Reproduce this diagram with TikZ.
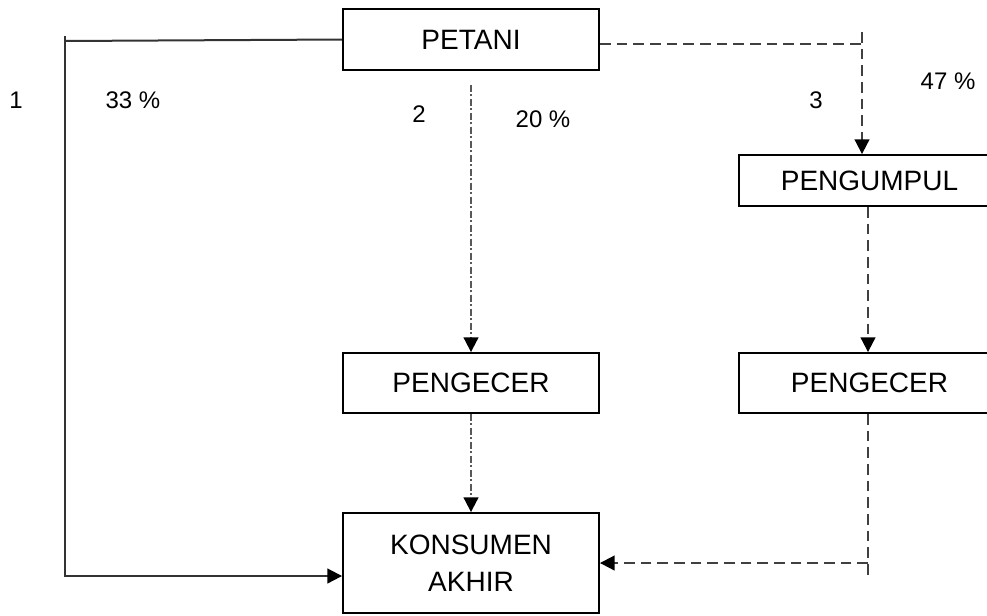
\documentclass[tikz,border=0pt]{standalone}
\usepackage{fontspec}
\setmainfont{Liberation Sans}
\usetikzlibrary{arrows.meta}
\tikzset{every picture/.style={line width=1.5pt}}
\tikzset{kotak/.style={draw=black, line width=1.4pt, fill=white, inner sep=0pt, font=\fontsize{21}{25}\selectfont, align=center}}
\tikzset{label teks/.style={inner sep=0pt, font=\fontsize{18}{21}\selectfont}}
\tikzset{panah/.style={-{Triangle[length=11pt,width=11pt,color=black]}}}
\tikzset{putus/.style={draw=black!75, dash pattern=on 8pt off 4.5pt}}
\tikzset{titik putus/.style={draw=black!65, dash pattern=on 5pt off 2pt on 1.5pt off 2pt}}
\begin{document}
\begin{tikzpicture}[x=0.75pt,y=-0.75pt]
        \clip (0,0) rectangle (987,615);
        \fill[white] (0,0) rectangle (987,615);
        \node[kotak, minimum width=192pt, minimum height=45.75pt] (petani) at (471,39.5) {PETANI};
        \node[kotak, minimum width=195.75pt, minimum height=38.25pt] (pengumpul) at (869.5,180.5) {PENGUMPUL};
        \node[kotak, minimum width=192pt, minimum height=45pt] (pengecer1) at (471,383) {PENGECER};
        \node[kotak, minimum width=195.75pt, minimum height=45pt] (pengecer2) at (869.5,383) {PENGECER};
        \node[kotak, minimum width=192pt, minimum height=75pt] (konsumen) at (471,563) {KONSUMEN\\[3pt]AKHIR};
        \node[label teks] (n1) at (16,100) {1};
        \node[label teks] (p1) at (133,100) {33 \%};
        \node[label teks] (n2) at (419,114) {2};
        \node[label teks] (p2) at (543,119) {20 \%};
        \node[label teks] (n3) at (816,100) {3};
        \node[label teks] (p3) at (948,81) {47 \%};
        \coordinate (kiri puncak) at (65,36);
        \coordinate (kiri atas) at (65,41);
        \coordinate (kiri bawah) at (65,576);
        \coordinate (kanan puncak) at (862,32);
        \coordinate (kanan atas) at (862,44);
        \coordinate (bawah kanan) at (868,577);
        \coordinate (siku kanan) at (868,563);
        \coordinate (awal tengah) at (471,85);
        % jalur 1
        \draw[black!80] (petani.west) -- (kiri atas);
        \draw[black!80, panah] (kiri puncak) -- (kiri bawah) -- (kiri bawah -| konsumen.west);
        % jalur 2
        \draw[titik putus, panah] (awal tengah) -- (pengecer1.north);
        \draw[titik putus, panah] (pengecer1.south) -- (konsumen.north);
        % jalur 3
        \draw[putus] (petani.east |- kanan atas) -- (kanan atas);
        \draw[putus, panah] (kanan puncak) -- (kanan puncak |- pengumpul.north);
        \draw[putus, panah] (pengumpul.south -| siku kanan) -- (pengecer2.north -| siku kanan);
        \draw[putus] (pengecer2.south -| bawah kanan) -- (bawah kanan);
        \draw[putus, panah] (siku kanan) -- (konsumen.east);
    \end{tikzpicture}
\end{document}
